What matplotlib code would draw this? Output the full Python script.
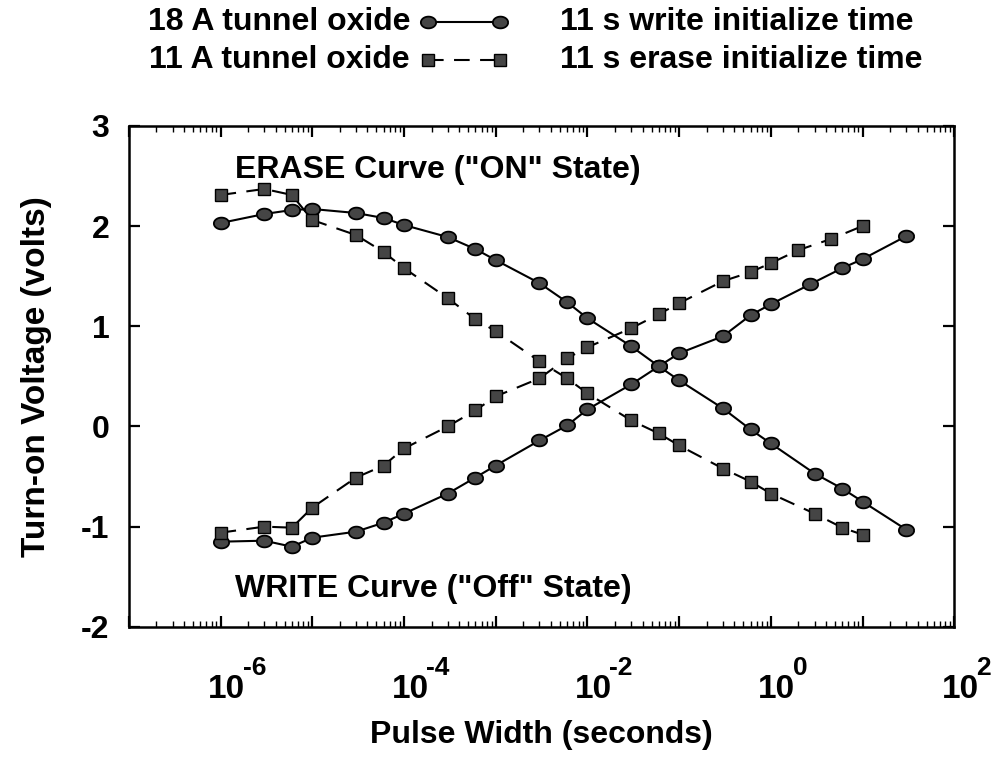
import numpy as np
import matplotlib.pyplot as plt
from matplotlib.path import Path
from matplotlib.lines import Line2D
from matplotlib.ticker import LogLocator, NullFormatter, FixedLocator, FixedFormatter

plt.rcParams['font.family'] = ['Liberation Sans', 'DejaVu Sans']
plt.rcParams['font.weight'] = 'bold'

# pulse widths (seconds)
t_erase18 = [1e-6, 3e-6, 6e-6, 1e-5, 3e-5, 6e-5, 1e-4, 3e-4, 6e-4, 1e-3, 3e-3, 6e-3,
             1e-2, 3e-2, 6e-2, 0.1, 0.3, 0.6, 1, 3, 6, 10, 30]
t_write18 = [1e-6, 3e-6, 6e-6, 1e-5, 3e-5, 6e-5, 1e-4, 3e-4, 6e-4, 1e-3, 3e-3, 6e-3,
             1e-2, 3e-2, 6e-2, 0.1, 0.3, 0.6, 1, 2.7, 6, 10, 30]
t_erase11 = [1e-6, 3e-6, 6e-6, 1e-5, 3e-5, 6e-5, 1e-4, 3e-4, 6e-4, 1e-3, 3e-3, 6e-3,
             1e-2, 3e-2, 6e-2, 0.1, 0.3, 0.6, 1, 3, 6, 10]
t_write11 = [1e-6, 3e-6, 6e-6, 1e-5, 3e-5, 6e-5, 1e-4, 3e-4, 6e-4, 1e-3, 3e-3, 6e-3,
             1e-2, 3e-2, 6e-2, 0.1, 0.3, 0.6, 1, 2, 4.5, 10]

# turn-on voltage (volts)
v_erase18 = [2.03, 2.12, 2.16, 2.17, 2.13, 2.08, 2.01, 1.89, 1.77, 1.66, 1.43, 1.24,
             1.08, 0.80, 0.60, 0.46, 0.18, -0.03, -0.17, -0.47, -0.62, -0.75, -1.03]
v_write18 = [-1.15, -1.14, -1.20, -1.11, -1.05, -0.96, -0.87, -0.67, -0.51, -0.39, -0.14, 0.01,
             0.17, 0.42, 0.60, 0.73, 0.90, 1.11, 1.22, 1.42, 1.58, 1.67, 1.90]
v_erase11 = [2.31, 2.37, 2.31, 2.06, 1.91, 1.74, 1.58, 1.28, 1.07, 0.95, 0.65, 0.48,
             0.33, 0.06, -0.07, -0.19, -0.42, -0.55, -0.67, -0.87, -1.01, -1.08]
v_write11 = [-1.06, -1.00, -1.01, -0.81, -0.51, -0.39, -0.22, 0.00, 0.16, 0.30, 0.48, 0.68,
             0.79, 0.98, 1.12, 1.23, 1.45, 1.54, 1.63, 1.76, 1.87, 2.00]

y_ticks = [-2, -1, 0, 1, 2, 3]
y_ticklabels = ['-2', '-1', '0', '1', '2', '3']
x_label_powers = [-6, -4, -2, 0, 2]

# slightly flattened circle marker
th = np.linspace(0, 2 * np.pi, 41)
oval = Path(np.column_stack([1.3 * np.cos(th), np.sin(th)]))

circ = dict(color='black', lw=1.5, marker=oval, ms=11, mfc='#454545', mec='black', mew=1.3)
sqr = dict(color='black', lw=1.5, ls=(0, (7.5, 5)), marker='s', ms=8, mfc='#454545',
           mec='black', mew=1.0)

fig = plt.figure(figsize=(9.91, 7.58), dpi=100)
ax = fig.add_axes([0.130, 0.173, 0.833, 0.661])

ax.plot(t_erase18, v_erase18, **circ)
ax.plot(t_write18, v_write18, **circ)
ax.plot(t_erase11, v_erase11, **sqr)
ax.plot(t_write11, v_write11, **sqr)

ax.set_xscale('log')
ax.set_xlim(1e-7, 1e2)
ax.set_ylim(-2, 3)

for s in ax.spines.values():
    s.set_linewidth(1.8)

ax.xaxis.set_major_locator(LogLocator(base=10, numticks=20))
ax.xaxis.set_minor_locator(LogLocator(base=10, subs=np.arange(2, 10), numticks=20))
ax.xaxis.set_major_formatter(NullFormatter())
ax.xaxis.set_minor_formatter(NullFormatter())
ax.yaxis.set_major_locator(FixedLocator(y_ticks))
ax.yaxis.set_major_formatter(FixedFormatter(y_ticklabels))
ax.tick_params(which='major', direction='in', length=8, width=1.6, top=True, right=True)
ax.tick_params(which='minor', direction='in', length=4, width=1.0, top=True, right=True)
ax.tick_params(axis='y', labelsize=23, pad=14)

# gnuplot-style decade labels: "10" with a raised exponent
for p in x_label_powers:
    ax.annotate('10', xy=(10.0 ** p, 0), xycoords=('data', 'axes fraction'),
                xytext=(6, -78), textcoords='offset pixels', ha='center', va='bottom',
                fontsize=24, fontweight='bold')
    ax.annotate(str(p), xy=(10.0 ** p, 0), xycoords=('data', 'axes fraction'),
                xytext=(22, -53), textcoords='offset pixels', ha='left', va='bottom',
                fontsize=19, fontweight='bold')

ax.text(0.5, -0.185, 'Pulse Width (seconds)', transform=ax.transAxes, ha='center', va='top',
        fontsize=23, fontweight='bold')
ax.text(-0.112, 0.5, 'Turn-on Voltage (volts)', transform=ax.transAxes, ha='center',
        va='center', rotation=90, fontsize=24, fontweight='bold')

ax.text(1.45e-6, 2.56, 'ERASE Curve ("ON" State)', ha='left', va='center', fontsize=23,
        fontweight='bold')
ax.text(1.45e-6, -1.62, 'WRITE Curve ("Off" State)', ha='left', va='center', fontsize=23,
        fontweight='bold')

# key above the frame
row1, row2 = 1 - 22 / 758, 1 - 60 / 758
fig.text(410 / 991, row1, '18 A tunnel oxide', ha='right', va='center', fontsize=23,
         fontweight='bold')
fig.text(410 / 991, row2, '11 A tunnel oxide', ha='right', va='center', fontsize=23,
         fontweight='bold')
fig.add_artist(Line2D([428 / 991, 500 / 991], [row1, row1], transform=fig.transFigure, **circ))
fig.add_artist(Line2D([428 / 991, 500 / 991], [row2, row2], transform=fig.transFigure, **sqr))
fig.text(560 / 991, row1, '11 s write initialize time', ha='left', va='center', fontsize=23,
         fontweight='bold')
fig.text(560 / 991, row2, '11 s erase initialize time', ha='left', va='center', fontsize=23,
         fontweight='bold')

fig.savefig('out.png', dpi=100)
